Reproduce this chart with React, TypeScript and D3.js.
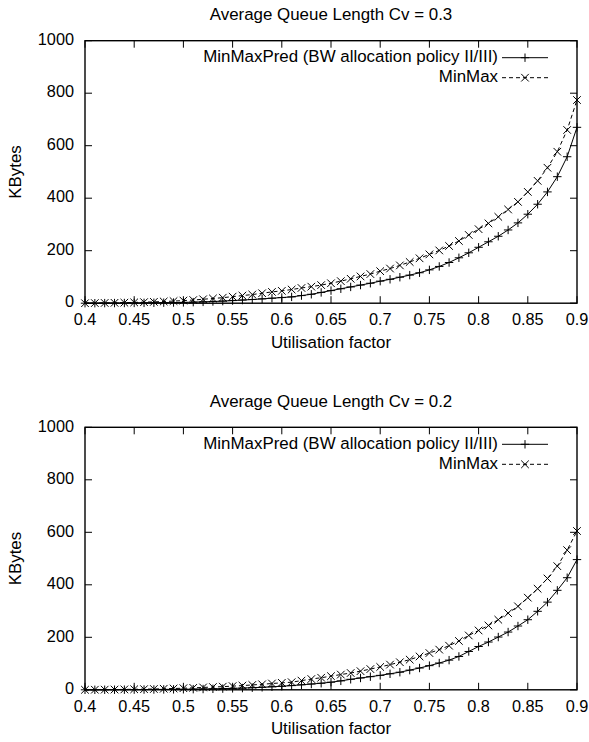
import React from 'react';
import * as d3 from 'd3';

// utilisation factor (x) for every sample
const utilisation = [
  0.4, 0.41, 0.42, 0.43, 0.44, 0.45, 0.46, 0.47, 0.48, 0.49,
  0.5, 0.51, 0.52, 0.53, 0.54, 0.55, 0.56, 0.57, 0.58, 0.59,
  0.6, 0.61, 0.62, 0.63, 0.64, 0.65, 0.66, 0.67, 0.68, 0.69,
  0.7, 0.71, 0.72, 0.73, 0.74, 0.75, 0.76, 0.77, 0.78, 0.79,
  0.8, 0.81, 0.82, 0.83, 0.84, 0.85, 0.86, 0.87, 0.88, 0.89, 0.9
];

// Cv = 0.3
const minMaxPredCv03 = [
  0, 0, 0.3, 0.5, 0.7, 1, 1.3, 1.6, 2, 2.5,
  3, 4, 5, 6.5, 8, 10, 12, 14, 16.5, 19,
  21.5, 24, 29, 34, 41, 48, 55, 62, 69, 76,
  84, 91, 99, 107, 116, 127, 140, 155, 173, 192,
  213, 234, 255, 279, 306, 339, 377, 424, 482, 558, 670
];
const minMaxCv03 = [
  0, 0.5, 1, 1.5, 2, 3, 4, 5, 6.5, 8,
  10, 12, 15, 18, 21, 25, 29, 33, 38, 43,
  47, 52, 58, 63, 69, 76, 84, 93, 102, 111,
  122, 132, 144, 157, 171, 186, 201, 218, 237, 260,
  282, 304, 329, 357, 386, 424, 466, 516, 577, 660, 774
];

// Cv = 0.2
const minMaxPredCv02 = [
  0, 0, 0.2, 0.3, 0.5, 0.7, 0.9, 1.1, 1.4, 1.7,
  2, 2.5, 3, 3.7, 4.5, 5.5, 6.5, 8, 9.5, 11.5,
  13.5, 16, 19, 22, 25, 29, 34, 40, 45, 50,
  55, 61, 67, 75, 83, 92, 102, 113, 127, 146,
  165, 182, 201, 220, 243, 267, 299, 334, 379, 427, 496
];
const minMaxCv02 = [
  0, 0.3, 0.6, 1, 1.5, 2, 2.5, 3, 4, 5,
  6, 7.5, 9, 10.5, 12, 14, 16, 18.5, 21, 24,
  26.5, 29, 35, 41, 46, 52, 58, 64, 71, 79,
  87, 96, 105, 115, 127, 140, 153, 168, 186, 207,
  226, 245, 267, 292, 318, 351, 385, 424, 471, 532, 605
];

const xTicks = [0.4, 0.45, 0.5, 0.55, 0.6, 0.65, 0.7, 0.75, 0.8, 0.85, 0.9];
const yTicks = [0, 200, 400, 600, 800, 1000];
const seriesNames = ['MinMaxPred (BW allocation policy II/III)', 'MinMax'];

const FONT = '"Liberation Sans", Arial, Helvetica, sans-serif';
const FS_NUM = 16.3;
const FS_TXT = 16.9;

const plus = (cx: number, cy: number, r = 4.2) =>
  `M${cx - r},${cy}H${cx + r}M${cx},${cy - r}V${cy + r}`;
const cross = (cx: number, cy: number, r = 3.8) =>
  `M${cx - r},${cy - r}L${cx + r},${cy + r}M${cx - r},${cy + r}L${cx + r},${cy - r}`;

function Panel({ top, title, pred, minmax }: { top: number; title: string; pred: number[]; minmax: number[] }) {
  const left = 85, right = 577, h = 262.5;
  const x = d3.scaleLinear().domain([0.4, 0.9]).range([left, right]);
  const y = d3.scaleLinear().domain([0, 1000]).range([top + h, top]);
  const line = d3.line<number>()
    .x((_, i) => x(utilisation[i]))
    .y(d => y(d));
  const tick = 7;
  const keyY = [top + 17, top + 37];

  return (
    <g fontFamily={FONT} fontSize={FS_NUM} fill="#000">
      <text x={(left + right) / 2} y={top - 25} fontSize={FS_TXT} textAnchor="middle" dominantBaseline="middle">{title}</text>

      {/* ticks, mirrored on all sides */}
      {yTicks.map(t => (
        <g key={'y' + t}>
          <line x1={left} x2={left + tick} y1={y(t)} y2={y(t)} stroke="#000" />
          <line x1={right} x2={right - tick} y1={y(t)} y2={y(t)} stroke="#000" />
          <text x={74} y={y(t)} textAnchor="end" dominantBaseline="middle">{t}</text>
        </g>
      ))}
      {xTicks.map(t => (
        <g key={'x' + t}>
          <line x1={x(t)} x2={x(t)} y1={top + h} y2={top + h - tick} stroke="#000" />
          <line x1={x(t)} x2={x(t)} y1={top} y2={top + tick} stroke="#000" />
          <text x={x(t)} y={top + h + 18} textAnchor="middle" dominantBaseline="middle">{String(t)}</text>
        </g>
      ))}
      <rect x={left} y={top} width={right - left} height={h} fill="none" stroke="#000" strokeWidth={1.4} />

      <text x={(left + right) / 2} y={top + h + 40} fontSize={FS_TXT} textAnchor="middle" dominantBaseline="middle">Utilisation factor</text>
      <text transform={`translate(17,${top + h / 2}) rotate(-90)`} fontSize={FS_TXT} textAnchor="middle" dominantBaseline="middle">KBytes</text>

      {/* series */}
      <path d={line(pred) || ''} fill="none" stroke="#000" strokeWidth={1} />
      <path d={line(minmax) || ''} fill="none" stroke="#000" strokeWidth={1} strokeDasharray="4,3" />
      <path d={pred.map((d, i) => plus(x(utilisation[i]), y(d))).join('')} stroke="#000" strokeWidth={1} fill="none" />
      <path d={minmax.map((d, i) => cross(x(utilisation[i]), y(d))).join('')} stroke="#000" strokeWidth={1} fill="none" />

      {/* key */}
      <text x={498} y={keyY[0]} fontSize={FS_TXT} textAnchor="end" dominantBaseline="middle">{seriesNames[0]}</text>
      <line x1={502} x2={548} y1={keyY[0]} y2={keyY[0]} stroke="#000" />
      <path d={plus(525, keyY[0])} stroke="#000" fill="none" />
      <text x={498} y={keyY[1]} fontSize={FS_TXT} textAnchor="end" dominantBaseline="middle">{seriesNames[1]}</text>
      <line x1={502} x2={548} y1={keyY[1]} y2={keyY[1]} stroke="#000" strokeDasharray="4,3" />
      <path d={cross(525, keyY[1])} stroke="#000" fill="none" />
    </g>
  );
}

export default function App() {
  return (
    <svg width={589} height={742} style={{ position: 'absolute', left: 0, top: 0, background: '#fff' }}>
      <rect width={589} height={742} fill="#fff" />
      <Panel top={40.7} title="Average Queue Length Cv = 0.3" pred={minMaxPredCv03} minmax={minMaxCv03} />
      <Panel top={427.3} title="Average Queue Length Cv = 0.2" pred={minMaxPredCv02} minmax={minMaxCv02} />
    </svg>
  );
}
